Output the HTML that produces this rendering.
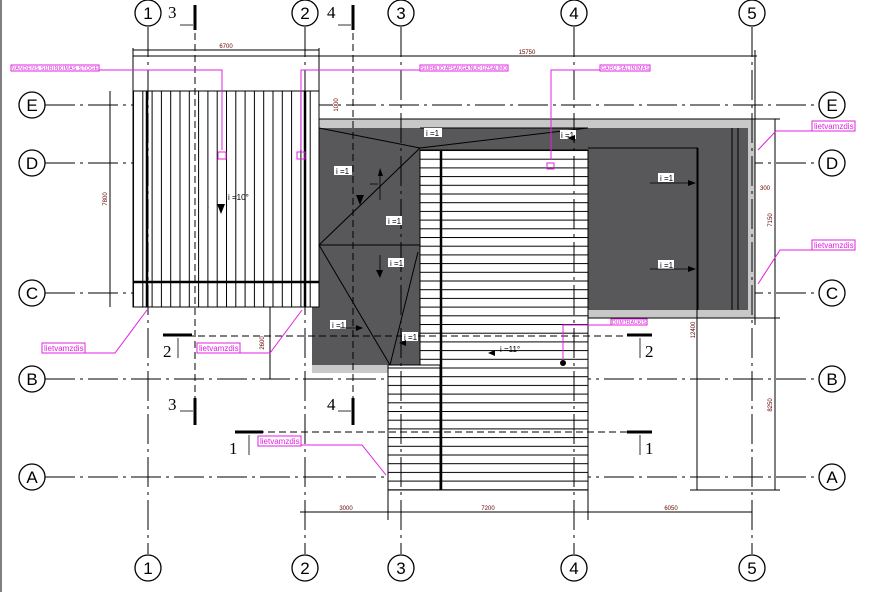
<!DOCTYPE html><html><head><style>body{margin:0;background:#fff}svg{display:block}text{font-family:"Liberation Sans",sans-serif}</style></head><body>
<svg width="869" height="592" viewBox="0 0 869 592" xmlns="http://www.w3.org/2000/svg">
<defs>
<pattern id="vs" x="133" y="0" width="9.3" height="10" patternUnits="userSpaceOnUse"><rect width="9.3" height="10" fill="#fff"/><line x1="0.5" y1="0" x2="0.5" y2="10" stroke="#000" stroke-width="1"/></pattern>
<pattern id="hs" x="0" y="150" width="10" height="8.7" patternUnits="userSpaceOnUse"><rect width="10" height="8.7" fill="#fff"/><line x1="0" y1="0.5" x2="10" y2="0.5" stroke="#000" stroke-width="1"/></pattern>
</defs>
<line x1="1" y1="0" x2="1" y2="592" stroke="#000"/>
<g stroke="#000" stroke-width="1" stroke-dasharray="30,5,3,5">
<line x1="45" y1="105" x2="819" y2="105"/><line x1="45" y1="163" x2="819" y2="163"/><line x1="45" y1="293" x2="819" y2="293"/><line x1="45" y1="379" x2="819" y2="379"/><line x1="45" y1="477" x2="819" y2="477"/>
</g>
<!-- gray -->
<rect x="319" y="119" width="436" height="199" fill="#c8c8c8" stroke="#000"/>
<rect x="312" y="300" width="76" height="73" fill="#c8c8c8"/>
<rect x="319" y="128" width="429" height="182" fill="#58585a"/>
<rect x="312" y="300" width="110" height="65" fill="#58585a"/>
<rect x="319" y="250" width="103" height="115" fill="#58585a"/>
<!-- left roof -->
<rect x="133" y="91" width="186" height="216" fill="url(#vs)" stroke="#000"/>
<line x1="133" y1="282" x2="319" y2="282" stroke="#000" stroke-width="2.5"/>
<line x1="147" y1="91" x2="147" y2="307" stroke="#000" stroke-width="2.5"/>
<line x1="305" y1="91" x2="305" y2="307" stroke="#000" stroke-width="2.5"/>
<g stroke="#000" fill="none">
<line x1="319" y1="128" x2="420" y2="148"/><line x1="420" y1="148" x2="319" y2="245"/><line x1="319" y1="245" x2="420" y2="245"/>
<line x1="319" y1="245" x2="390" y2="365"/><line x1="390" y1="365" x2="418" y2="252"/>
<line x1="420" y1="128" x2="588" y2="128"/><line x1="420" y1="148" x2="588" y2="128" />
<line x1="588" y1="148" x2="698" y2="148"/><line x1="698" y1="148" x2="698" y2="310"/>
<line x1="732" y1="128" x2="732" y2="310"/><line x1="738" y1="128" x2="738" y2="310"/>
<line x1="420" y1="150" x2="420" y2="365"/>
</g>
<rect x="420" y="150" width="168" height="340" fill="url(#hs)" stroke="#000"/>
<rect x="388" y="365" width="52" height="125" fill="url(#hs)" stroke="#000"/>
<line x1="441" y1="150" x2="441" y2="490" stroke="#000" stroke-width="2.5"/>
<g stroke="#000" stroke-width="1" stroke-dasharray="30,5,3,5">
<line x1="148" y1="27" x2="148" y2="554"/><line x1="305" y1="27" x2="305" y2="554"/><line x1="401" y1="27" x2="401" y2="554"/><line x1="574" y1="27" x2="574" y2="554"/><line x1="752" y1="27" x2="752" y2="554"/>
</g>
<g stroke="#000" stroke-dasharray="7,4" fill="none">
<line x1="195" y1="22" x2="195" y2="425"/><line x1="353" y1="22" x2="353" y2="425"/>
<line x1="165" y1="336" x2="650" y2="336"/><line x1="235" y1="432" x2="650" y2="432"/>
</g>
<g fill="#fff" stroke="#000" stroke-width="1.3">
<circle cx="148" cy="13" r="13"/><circle cx="305" cy="13" r="13"/><circle cx="401" cy="13" r="13"/><circle cx="574" cy="13" r="13"/><circle cx="752" cy="13" r="13"/>
<circle cx="148" cy="568" r="13"/><circle cx="305" cy="568" r="13"/><circle cx="401" cy="568" r="13"/><circle cx="574" cy="568" r="13"/><circle cx="752" cy="568" r="13"/>
<circle cx="32" cy="105" r="13"/><circle cx="32" cy="163" r="13"/><circle cx="32" cy="293" r="13"/><circle cx="32" cy="379" r="13"/><circle cx="32" cy="477" r="13"/>
<circle cx="832" cy="105" r="13"/><circle cx="832" cy="163" r="13"/><circle cx="832" cy="293" r="13"/><circle cx="832" cy="379" r="13"/><circle cx="832" cy="477" r="13"/>
</g>
<g font-size="17" text-anchor="middle">
<text x="148" y="19">1</text><text x="305" y="19">2</text><text x="401" y="19">3</text><text x="574" y="19">4</text><text x="752" y="19">5</text>
<text x="148" y="574">1</text><text x="305" y="574">2</text><text x="401" y="574">3</text><text x="574" y="574">4</text><text x="752" y="574">5</text>
<text x="32" y="111">E</text><text x="32" y="169">D</text><text x="32" y="299">C</text><text x="32" y="385">B</text><text x="32" y="483">A</text>
<text x="832" y="111">E</text><text x="832" y="169">D</text><text x="832" y="299">C</text><text x="832" y="385">B</text><text x="832" y="483">A</text>
</g>
<g stroke="#000" stroke-width="3"><line x1="195" y1="5" x2="195" y2="30"/><line x1="353" y1="5" x2="353" y2="30"/><line x1="195" y1="398" x2="195" y2="425"/><line x1="353" y1="398" x2="353" y2="425"/>
<line x1="163" y1="335" x2="192" y2="335"/><line x1="627" y1="335" x2="652" y2="335"/><line x1="235" y1="432" x2="263" y2="432"/><line x1="627" y1="432" x2="652" y2="432"/></g>
<g stroke="#000" stroke-width="0.8"><line x1="180" y1="25" x2="193" y2="25"/><line x1="338" y1="25" x2="351" y2="25"/><line x1="180" y1="411" x2="193" y2="411"/><line x1="338" y1="411" x2="351" y2="411"/><line x1="178" y1="338" x2="178" y2="358"/><line x1="640" y1="338" x2="640" y2="358"/><line x1="249" y1="435" x2="249" y2="455"/><line x1="640" y1="435" x2="640" y2="455"/></g>
<g font-size="17" style="font-family:'Liberation Serif',serif"><text x="168" y="18" style="font-family:'Liberation Serif',serif">3</text><text x="327" y="18" style="font-family:'Liberation Serif',serif">4</text><text x="168" y="410" style="font-family:'Liberation Serif',serif">3</text><text x="327" y="410" style="font-family:'Liberation Serif',serif">4</text>
<text x="163" y="357" style="font-family:'Liberation Serif',serif">2</text><text x="645" y="357" style="font-family:'Liberation Serif',serif">2</text><text x="229" y="454" style="font-family:'Liberation Serif',serif">1</text><text x="645" y="454" style="font-family:'Liberation Serif',serif">1</text></g>
<g stroke="#000" fill="none">
<line x1="133" y1="56" x2="757" y2="56"/><line x1="133" y1="50" x2="319" y2="50"/>
<line x1="133" y1="48" x2="133" y2="95"/><line x1="319" y1="48" x2="319" y2="95"/><line x1="755" y1="50" x2="755" y2="325"/>
<line x1="110" y1="91" x2="110" y2="307"/>
<line x1="300" y1="512" x2="752" y2="512"/><line x1="388" y1="490" x2="388" y2="520"/><line x1="588" y1="490" x2="588" y2="520"/>
<line x1="270" y1="307" x2="270" y2="379"/>
<line x1="697" y1="148" x2="697" y2="490"/><line x1="775" y1="318" x2="775" y2="490"/><line x1="775" y1="119" x2="775" y2="318"/>
<line x1="690" y1="490" x2="780" y2="490"/><line x1="740" y1="318" x2="780" y2="318"/><line x1="740" y1="119" x2="780" y2="119"/>
</g>
<g font-size="6" fill="#600" text-anchor="middle">
<text x="226" y="48">6700</text><text x="527" y="54">15750</text><text x="346" y="510">3000</text><text x="488" y="510">7200</text><text x="671" y="510">6050</text>
<text x="765" y="190">300</text>
<text transform="translate(107,199) rotate(-90)">7800</text><text transform="translate(264,343) rotate(-90)">2600</text><text transform="translate(695,330) rotate(-90)">12400</text><text transform="translate(772,405) rotate(-90)">8250</text><text transform="translate(772,220) rotate(-90)">7150</text>
<text transform="translate(338,105) rotate(-90)">1000</text>
</g>
<g font-size="8">
<rect x="424" y="128" width="18" height="9" fill="#fff"/><text x="426" y="136">i =1</text>
<rect x="560" y="130" width="16" height="9" fill="#fff"/><text x="561" y="138">i =1</text>
<rect x="334" y="166" width="18" height="9" fill="#fff"/><text x="336" y="174">i =1</text>
<rect x="386" y="216" width="16" height="9" fill="#fff"/><text x="388" y="224">i =1</text>
<rect x="388" y="258" width="16" height="9" fill="#fff"/><text x="390" y="266">i =1</text>
<rect x="330" y="320" width="16" height="9" fill="#fff"/><text x="332" y="328">i =1</text>
<rect x="402" y="332" width="16" height="9" fill="#fff"/><text x="404" y="340">i =1</text>
<rect x="658" y="173" width="16" height="9" fill="#fff"/><text x="660" y="181">i =1</text>
<rect x="658" y="260" width="16" height="9" fill="#fff"/><text x="660" y="268">i =1</text>
<text x="228" y="200">i =10°</text><text x="500" y="352">i =11°</text>
</g>
<g fill="#000"><polygon points="217,204 225,204 221,214"/><polygon points="378,176 383,176 380,168"/><polygon points="376,270 383,270 380,278"/><polygon points="356,195 364,195 360,205"/><polygon points="688,180 688,186 696,183"/><polygon points="688,266 688,272 696,269"/><polygon points="575,135 575,141 567,138"/><polygon points="495,350 495,356 488,353"/><polygon points="356,325 356,331 363,328"/><polygon points="406,340 406,346 399,343"/></g>
<g stroke="#000" stroke-width="0.8"><line x1="208" y1="207" x2="208" y2="208"/><line x1="370" y1="184" x2="378" y2="184"/><line x1="650" y1="183" x2="690" y2="183"/><line x1="650" y1="269" x2="690" y2="269"/><line x1="340" y1="328" x2="358" y2="328"/><line x1="380" y1="175" x2="380" y2="200"/><line x1="380" y1="255" x2="380" y2="272"/></g>
<g stroke="#e020e0" fill="none" font-size="6">
<rect x="11" y="65" width="88" height="6"/><rect x="420" y="65" width="88" height="6"/><rect x="600" y="65" width="50" height="6"/><rect x="611" y="319" width="36" height="6"/>
<polyline points="99,70 222,70 222,150"/><polyline points="420,70 301,70 301,150"/><polyline points="600,70 551,70 551,160"/><polyline points="611,325 563,325 563,360"/>
<rect x="218" y="152" width="8" height="7"/><rect x="297" y="152" width="8" height="7"/><rect x="547" y="163" width="7" height="6"/>
<rect x="42" y="343" width="43" height="10" fill="#fff"/><rect x="197" y="343" width="43" height="10" fill="#fff"/><rect x="258" y="436" width="43" height="10" fill="#fff"/>
<rect x="812" y="121" width="43" height="10" fill="#fff"/><rect x="812" y="240" width="43" height="10" fill="#fff"/>
<polyline points="85,353 115,353 147,310"/><polyline points="240,353 270,353 302,310"/><polyline points="301,445 362,445 386,475"/><polyline points="812,131 776,131 758,150"/><polyline points="812,250 780,250 758,284"/>
</g>
<g fill="#e020e0" font-size="5"><text x="12" y="70" textLength="86">VANDENS SURINKIMAS STOGE</text><text x="421" y="70" textLength="86">SIURBLIO APSAUGA NUO UZSALIMO</text><text x="601" y="70" textLength="48">GARU SALINIMAS</text><text x="612" y="324" textLength="34">DUMTRAUKIS</text></g>
<g fill="#e020e0" font-size="8"><text x="44" y="351">lietvamzdis</text><text x="199" y="351">lietvamzdis</text><text x="260" y="444">lietvamzdis</text><text x="814" y="129">lietvamzdis</text><text x="814" y="248">lietvamzdis</text></g>
<circle cx="563" cy="363" r="3" fill="#000"/>
</svg>
</body></html>
